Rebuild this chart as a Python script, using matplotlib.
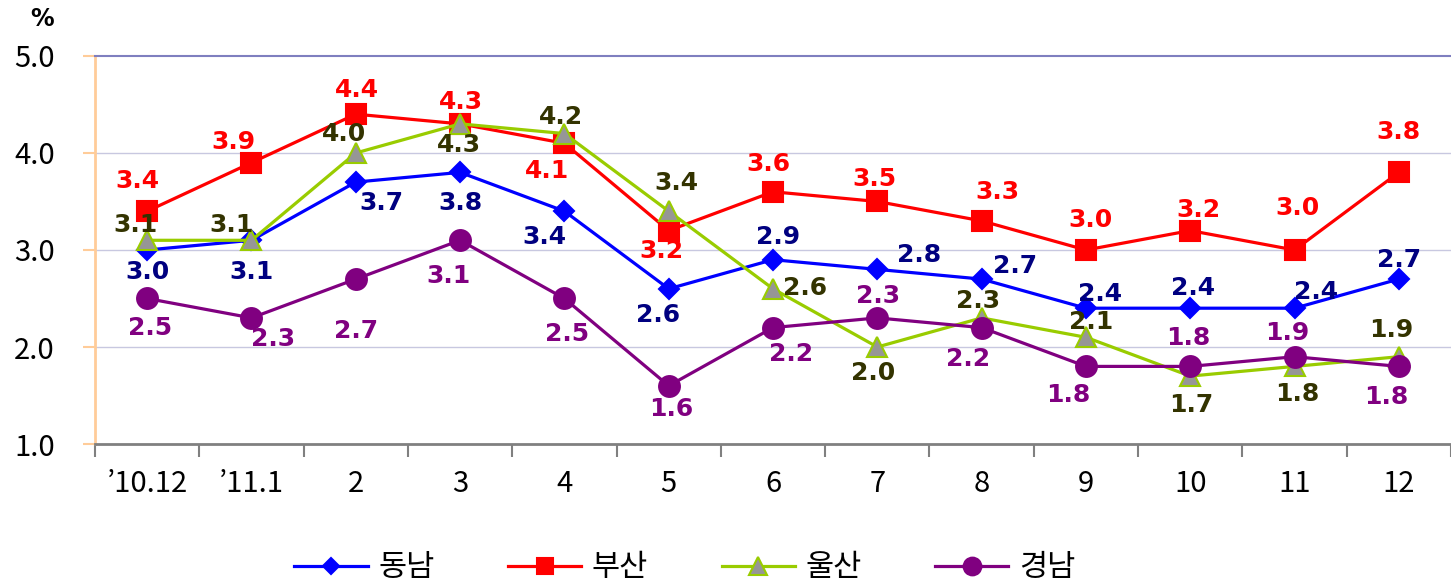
import numpy as np
import matplotlib.pyplot as plt

plt.rcParams['font.family'] = ['Noto Sans CJK KR', 'DejaVu Sans']

months = ['\u201910.12', '\u201911.1', '2', '3', '4', '5', '6', '7', '8', '9', '10', '11', '12']
series = ['동남', '부산', '울산', '경남']
dongnam = [3.0, 3.1, 3.7, 3.8, 3.4, 2.6, 2.9, 2.8, 2.7, 2.4, 2.4, 2.4, 2.7]
busan = [3.4, 3.9, 4.4, 4.3, 4.1, 3.2, 3.6, 3.5, 3.3, 3.0, 3.2, 3.0, 3.8]
ulsan = [3.1, 3.1, 4.0, 4.3, 4.2, 3.4, 2.6, 2.0, 2.3, 2.1, 1.7, 1.8, 1.9]
gyeongnam = [2.5, 2.3, 2.7, 3.1, 2.5, 1.6, 2.2, 2.3, 2.2, 1.8, 1.8, 1.9, 1.8]

# label offsets in pixels (dx, dy) for each point
off_dn = [(0, -22), (0, -32), (26, -21), (0, -31), (-20, -26), (-11, -26), (5, 23), (42, 14), (33, 13),
          (14, 14), (3, 20), (22, 16), (0, 19)]
off_bs = [(-10, 30), (-18, 21), (1, 24), (1, 22), (-17, -28), (-7, -20), (-5, 28), (-3, 22), (16, 29),
          (5, 30), (8, 21), (3, 42), (0, 40)]
off_us = [(-12, 15), (-20, 15), (-12, 19), (-1, -21), (-3, 17), (8, 28), (32, 1), (-4, -26), (-4, 17),
          (5, 15), (1, -29), (3, -28), (-8, 27)]
off_gn = [(3, -30), (22, -21), (0, -52), (-12, -36), (3, -36), (3, -23), (18, -26), (1, 22), (-14, -31),
          (-18, -29), (-2, 28), (-7, 24), (-13, -31)]

fig = plt.figure(figsize=(14.51, 5.83), dpi=100)
ax = fig.add_axes([0.0655, 0.2384, 0.9345, 0.6656])

x = np.arange(len(months))
styles = [
    (dongnam, '#0000FF', 'D', '#0000FF', '#0000FF', 10, '#000080', off_dn),
    (busan, '#FF0000', 's', '#FF0000', '#FF0000', 14, '#FF0000', off_bs),
    (ulsan, '#99CC00', '^', '#969696', '#99CC00', 15, '#333300', off_us),
    (gyeongnam, '#800080', 'o', '#800080', '#800080', 15, '#800080', off_gn),
]
for name, (vals, col, mk, fc, ec, ms, lc, offs) in zip(series, styles):
    ax.plot(x, vals, color=col, lw=2.3, marker=mk, markersize=ms, markerfacecolor=fc,
            markeredgecolor=ec, markeredgewidth=1.5, label=name, zorder=3)
for name, (vals, col, mk, fc, ec, ms, lc, offs) in zip(series, styles):
    for xi, v, (dx, dy) in zip(x, vals, offs):
        ax.annotate(f'{v:.1f}', (xi, v), xytext=(dx, dy), textcoords='offset pixels',
                    ha='center', va='center', fontsize=18, fontweight='bold', color=lc,
                    family='DejaVu Sans', zorder=5)

ax.set_xlim(-0.5, 12.5)
ax.set_ylim(1.0, 5.0)
ax.set_yticks([1.0, 2.0, 3.0, 4.0, 5.0])
ax.set_yticklabels(['1.0', '2.0', '3.0', '4.0', '5.0'], fontsize=21)
ax.set_xticks(x)
ax.set_xticklabels(months, fontsize=21)
ax.set_xticks(np.arange(-0.5, 12.6, 1), minor=True)
ax.tick_params(axis='x', which='major', length=0, pad=18)
ax.tick_params(axis='x', which='minor', length=9, width=1.5, color='#808080', direction='out')
ax.tick_params(axis='y', length=9, width=1.5, color='#FFCC99', pad=20)

for y in [2.0, 3.0, 4.0]:
    ax.axhline(y, color='#C8C8E0', lw=1, zorder=1)
ax.spines['top'].set_color('#7F7FBF')
ax.spines['top'].set_linewidth(1.5)
ax.spines['right'].set_visible(False)
ax.spines['left'].set_color('#FFCC99')
ax.spines['left'].set_linewidth(2)
ax.spines['bottom'].set_color('#808080')
ax.spines['bottom'].set_linewidth(2)

fig.text(0.021, 0.968, '%', fontsize=17, fontweight='bold', ha='left', va='center', family='DejaVu Sans')

ax.legend(loc='center', bbox_to_anchor=(0.472, 0.026), bbox_transform=fig.transFigure, ncol=4,
          frameon=False, fontsize=22, handlelength=2.4, columnspacing=2.4, handletextpad=0.35,
          borderpad=0, markerscale=0.85)

fig.savefig('out.png', dpi=100)
